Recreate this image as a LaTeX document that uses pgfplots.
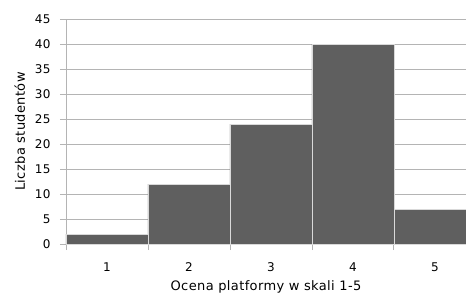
\documentclass[border=0pt]{standalone}
\usepackage{fontspec}
\setmainfont{DejaVu Sans}
\newfontfamily\labfont[LetterSpace=3]{DejaVu Sans}
\usepackage{pgfplots}
\pgfplotsset{compat=1.18}
\definecolor{barc}{HTML}{5F5F5F}
\definecolor{gridc}{HTML}{B4B4B4}
\begin{document}
\begin{tikzpicture}
\begin{axis}[
  at={(0,0)}, anchor=origin,
  scale only axis,
  width=400pt, height=225pt,
  xmin=0.5, xmax=5.38,
  ymin=0, ymax=45,
  ytick={0,5,...,45},
  xtick={1,2,3,4,5},
  minor xtick={0.5,1.5,2.5,3.5,4.5},
  major x tick style={draw=none},
  minor x tick style={gridc, thick},
  minor tick length=6pt,
  tick align=outside,
  ytick style={gridc, thick},
  major tick length=6pt,
  axis x line*=bottom,
  axis y line*=left,
  axis line style={gridc, thick, -},
  ymajorgrids,
  grid style={gridc, thick},
  tick label style={font=\labfont\fontsize{12}{14}\selectfont, black},
  /pgf/number format/assume math mode=true,
  xlabel={Ocena platformy w skali 1-5},
  ylabel={Liczba studentów},
  label style={font=\labfont\fontsize{13}{15}\selectfont},
  xlabel style={yshift=-2pt},
  ylabel style={yshift=3pt},
  yticklabel style={xshift=-6pt},
  xticklabel style={yshift=-9pt},
  clip=true,
]
\addplot[ybar interval, fill=barc, draw=white!85!black, line width=0.6pt] coordinates {
  (0.5,2) (1.5,12) (2.5,24) (3.5,40) (4.5,7) (5.5,7)
};
\end{axis}
\pgfresetboundingbox
\useasboundingbox (-66pt,-54pt) rectangle (400pt,244pt);
\end{tikzpicture}
\end{document}
